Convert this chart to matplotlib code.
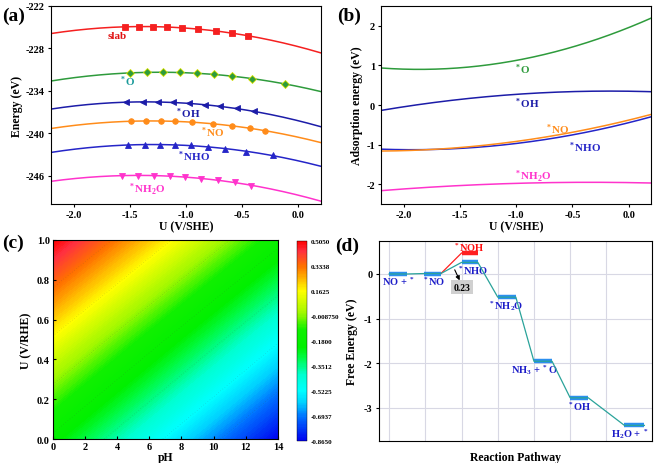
import numpy as np
import matplotlib
matplotlib.use('Agg')
import matplotlib.pyplot as plt
from matplotlib.colors import LinearSegmentedColormap

matplotlib.rcParams.update({
    'font.family': 'Liberation Serif',
    'font.weight': 'bold',
    'font.size': 7.5,
    'axes.labelweight': 'bold',
    'axes.unicode_minus': False,
    'mathtext.fontset': 'custom',
    'mathtext.rm': 'Liberation Serif:bold',
    'mathtext.it': 'Liberation Serif:bold',
    'mathtext.bf': 'Liberation Serif:bold',
})

# ---- (a) total energies vs potential (markers, quadratic fits) ----
U_slab = [-1.544, -1.415, -1.295, -1.169, -1.040, -0.891, -0.735, -0.588, -0.450]
E_slab = [-224.92, -224.92, -224.92, -225.02, -225.11, -225.25, -225.49, -225.82, -226.25]
U_O = [-1.502, -1.349, -1.202, -1.055, -0.903, -0.750, -0.588, -0.411, -0.120]
E_O = [-231.48, -231.39, -231.34, -231.39, -231.53, -231.67, -231.91, -232.33, -232.99]
U_OH = [-1.535, -1.385, -1.247, -1.112, -0.975, -0.834, -0.696, -0.546, -0.399]
E_OH = [-235.58, -235.58, -235.58, -235.63, -235.77, -235.96, -236.20, -236.48, -236.91]
U_NO = [-1.493, -1.358, -1.226, -1.094, -0.947, -0.759, -0.591, -0.435, -0.300]
E_NO = [-238.27, -238.27, -238.27, -238.32, -238.42, -238.65, -238.93, -239.26, -239.64]
U_NHO = [-1.514, -1.364, -1.229, -1.100, -0.954, -0.804, -0.654, -0.465, -0.225]
E_NHO = [-241.67, -241.58, -241.58, -241.62, -241.72, -241.91, -242.19, -242.57, -243.13]
U_NH2O = [-1.565, -1.424, -1.283, -1.145, -1.010, -0.867, -0.714, -0.564, -0.420]
E_NH2O = [-245.96, -245.96, -245.96, -246.06, -246.20, -246.39, -246.62, -246.91, -247.38]

# ---- (b) adsorption energies ----
U_b = [-2.2, -1.8, -1.4, -1.0, -0.6, -0.2, 0.2]
Ads_O = [0.93, 0.91, 0.96, 1.12, 1.40, 1.72, 2.20]
Ads_OH = [-0.13, 0.03, 0.17, 0.27, 0.33, 0.36, 0.33]
Ads_NO = [-1.16, -1.13, -1.05, -0.92, -0.74, -0.51, -0.24]
Ads_NHO = [-1.11, -1.13, -1.08, -0.97, -0.80, -0.58, -0.30]
Ads_NH2O = [-2.16, -2.08, -2.02, -1.98, -1.95, -1.95, -1.97]

# ---- (c) free energy map over pH and U ----
pH_grid = [0, 7, 14]
U_grid = [0.0, 0.5, 1.0]
G_map = [[-0.20, -0.53, -0.865],
         [0.15, -0.18, -0.51],
         [0.505, 0.18, -0.15]]
cbar_ticks = [0.5050, 0.3338, 0.1625, -0.008750, -0.1800, -0.3512, -0.5225, -0.6937, -0.8650]
cbar_labels = ['0.5050', '0.3338', '0.1625', '-0.008750', '-0.1800', '-0.3512', '-0.5225', '-0.6937', '-0.8650']

# ---- (d) free energy diagram ----
step_start = [0.0, 0.97, 2.0, 3.0, 4.0, 5.0, 6.5]
step_end = [0.5, 1.43, 2.45, 3.5, 4.5, 5.5, 7.05]
step_G = [0.0, 0.01, 0.26, -0.52, -1.96, -2.78, -3.40]
noh_start, noh_end, noh_G = 2.0, 2.45, 0.47
step_labels = ['NO + $^*$', '$^*$NO', '$^*$NHO', '$^*$NH$_2$O', 'NH$_3$ + $^*$O', '$^*$OH', 'H$_2$O + $^*$']
label_x = [0.25, 1.24, 2.30, 3.22, 4.02, 5.26, 6.66]
label_y = [-0.16, -0.16, 0.09, -0.69, -2.14, -2.97, -3.58]

fig = plt.figure(figsize=(6.55, 4.64), dpi=100)

# ================= (a) =================
ax = fig.add_axes([0.078, 0.558, 0.412, 0.427])
xs = np.linspace(-2.2, 0.2, 200)
series_a = [
    (U_slab, E_slab, '#f52020', 's', 'slab', (-1.70, -226.2), '#e01010'),
    (U_O, E_O, '#2e9b3c', 'D', '$^*$O', (-1.60, -232.6), '#1a9a9a'),
    (U_OH, E_OH, '#1c1ca8', '<', '$^*$OH', (-1.10, -237.1), '#1c1ca8'),
    (U_NO, E_NO, '#ff8c1a', 'o', '$^*$NO', (-0.88, -239.8), '#ff8c1a'),
    (U_NHO, E_NHO, '#2525c8', '^', '$^*$NHO', (-1.08, -243.2), '#2525c8'),
    (U_NH2O, E_NH2O, '#ff33cc', 'v', '$^*$NH$_2$O', (-1.52, -247.8), '#ff33cc'),
]
for u, e, col, mk, lab, (tx, ty), tcol in series_a:
    p = np.polyfit(u, e, 2)
    ax.plot(xs, np.polyval(p, xs), color=col, lw=1.1, zorder=2)
    ax.plot(u, e, ls='none', marker=mk, ms=4, color=col,
            mec='#d8e000' if mk == 'D' else col, mew=0.6, zorder=3)
    ax.text(tx, ty, lab, color=tcol, fontsize=8, ha='left', va='center')
ax.set_xlim(-2.2, 0.2)
ax.set_ylim(-250, -222)
ax.set_xticks([-2.0, -1.5, -1.0, -0.5, 0.0])
ax.set_yticks([-222, -228, -234, -240, -246])
ax.set_xlabel('U (V/SHE)', fontsize=8.5, labelpad=1)
ax.set_ylabel('Energy (eV)', fontsize=8.5, labelpad=2)
ax.tick_params(direction='out', length=2.5, width=0.8, pad=2)

# ================= (b) =================
ax = fig.add_axes([0.582, 0.558, 0.412, 0.427])
series_b = [
    (Ads_O, '#2e9b3c', '$^*$O', (-1.02, 0.92), '#2e9b3c'),
    (Ads_OH, '#1c1ca8', '$^*$OH', (-1.02, 0.06), '#1c1ca8'),
    (Ads_NHO, '#2525c8', '$^*$NHO', (-0.54, -1.06), '#2525c8'),
    (Ads_NO, '#ff8c1a', '$^*$NO', (-0.74, -0.60), '#ff8c1a'),
    (Ads_NH2O, '#ff33cc', '$^*$NH$_2$O', (-1.02, -1.78), '#ff33cc'),
]
for a, col, lab, (tx, ty), tcol in series_b:
    p = np.polyfit(U_b, a, 2)
    ax.plot(xs, np.polyval(p, xs), color=col, lw=1.1)
    ax.text(tx, ty, lab, color=tcol, fontsize=8, ha='left', va='center')
ax.set_xlim(-2.2, 0.2)
ax.set_ylim(-2.5, 2.5)
ax.set_xticks([-2.0, -1.5, -1.0, -0.5, 0.0])
ax.set_yticks([-2, -1, 0, 1, 2])
ax.set_xlabel('U (V/SHE)', fontsize=8.5, labelpad=1)
ax.set_ylabel('Adsorption energy (eV)', fontsize=8.5, labelpad=2)
ax.tick_params(direction='out', length=2.5, width=0.8, pad=2)

# ================= (c) =================
ax = fig.add_axes([0.0805, 0.0517, 0.344, 0.429])
cmap = LinearSegmentedColormap.from_list('rb', [
    (0.0, '#0000f0'), (0.12, '#0070ff'), (0.19, '#00d0ff'), (0.25, '#00ffff'),
    (0.33, '#00ffd0'), (0.42, '#00fa40'), (0.47, '#00f000'), (0.56, '#10f000'),
    (0.64, '#a0f800'), (0.75, '#ffff00'), (0.875, '#ff7000'), (0.95, '#ff3040'),
    (1.0, '#ff0000')])
levels = np.linspace(cbar_ticks[-1], cbar_ticks[0], 181)
cf = ax.contourf(pH_grid, U_grid, np.array(G_map), levels=levels, cmap=cmap,
                 vmin=cbar_ticks[-1], vmax=cbar_ticks[0], antialiased=False)
ax.contour(pH_grid, U_grid, np.array(G_map), levels=sorted(cbar_ticks[1:-1]), colors='#404040',
           linewidths=0.4, linestyles=[(0, (1, 4))], alpha=0.35)
ax.set_xlim(0, 14)
ax.set_ylim(0, 1)
ax.set_xticks(range(0, 15, 2))
ax.set_yticks([0.0, 0.2, 0.4, 0.6, 0.8, 1.0])
ax.set_yticklabels(['0.0', '0.2', '0.4', '0.6', '0.8', '1.0'])
ax.set_xlabel('pH', fontsize=8.5, labelpad=0)
ax.set_ylabel('U (V/RHE)', fontsize=8.5, labelpad=3)
ax.tick_params(direction='in', length=2.5, width=0.8, pad=2)
cax = fig.add_axes([0.4534, 0.0474, 0.0153, 0.431])
cb = fig.colorbar(cf, cax=cax, ticks=cbar_ticks)
cb.ax.set_yticklabels(cbar_labels, fontsize=5)
cb.ax.tick_params(length=0, pad=3)
cb.outline.set_linewidth(0.3)

# ================= (d) =================
ax = fig.add_axes([0.5786, 0.0474, 0.4168, 0.431])
ax.grid(True, color='#d8d8e4', lw=0.8)
ax.set_axisbelow(True)
# red branch via *NOH
ax.plot([step_end[1], noh_start], [step_G[1], noh_G], color='#ff2020', lw=0.9, zorder=2)
ax.plot([noh_start, noh_end], [noh_G, noh_G], color='#ff2020', lw=3.2, zorder=3,
        solid_capstyle='butt')
# blue levels
for s, e, g in zip(step_start, step_end, step_G):
    ax.plot([s, e], [g, g], color='#2b8fef', lw=3.2, solid_capstyle='butt', zorder=3)
# teal connecting path
px, py = [], []
for s, e, g in zip(step_start, step_end, step_G):
    px += [s, e]
    py += [g, g]
ax.plot(px, py, color='#2aa39a', lw=0.9, zorder=4)
for lab, tx, ty in zip(step_labels, label_x, label_y):
    ax.text(tx, ty, lab, color='#1c1cc8', fontsize=7.5, ha='center', va='center')
ax.text(2.21, 0.60, '$^*$NOH', color='#ff1010', fontsize=7.5, ha='center', va='center')
ax.annotate('', xy=(1.98, -0.20), xytext=(1.78, 0.15),
            arrowprops=dict(arrowstyle='-|>', color='black', lw=0.8, mutation_scale=6))
ax.text(2.02, -0.30, '0.23', fontsize=7, ha='center', va='center',
        bbox=dict(boxstyle='square,pad=0.25', fc='#d0d0d0', ec='none'))
ax.set_xlim(-0.28, 7.26)
ax.set_ylim(-3.75, 0.74)
ax.set_xticks(range(0, 7))
ax.set_xticklabels([])
ax.set_yticks([0, -1, -2, -3])
ax.tick_params(axis='x', length=0)
ax.tick_params(axis='y', direction='out', length=2.5, width=0.8, pad=2)
ax.set_xlabel('Reaction Pathway', fontsize=8.5, labelpad=4)
ax.set_ylabel('Free Energy (eV)', fontsize=8.5, labelpad=4)

# panel letters
for x, y, t in [(0.003, 0.965, '(a)'), (0.515, 0.965, '(b)'),
                (0.003, 0.475, '(c)'), (0.512, 0.470, '(d)')]:
    fig.text(x, y, t, fontsize=14, fontweight='bold', va='center')

fig.savefig('out.png', dpi=100)
